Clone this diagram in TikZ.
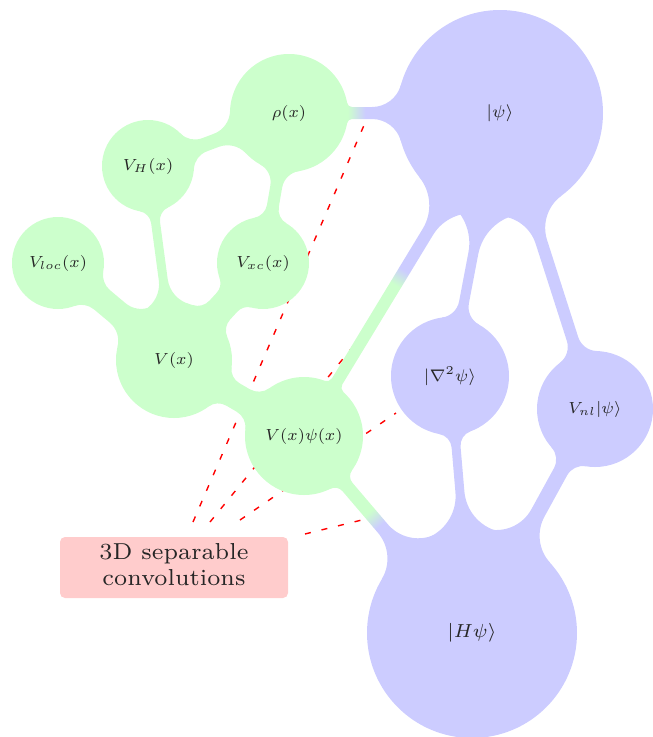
\documentclass[tikz,border=0pt]{standalone}
\usepackage{amsmath}
\usepackage{graphicx}
\pgfdeclarelayer{dashes}
\pgfdeclarelayer{necks}
\pgfsetlayers{dashes,necks,main}
\colorlet{blobgreen}{green!20}
\colorlet{blobblue}{blue!20}
\colorlet{boxred}{red!20}
\pgfdeclarehorizontalshading{greentoblue}{100bp}{color(0bp)=(blobgreen); color(49bp)=(blobgreen); color(51bp)=(blobblue); color(100bp)=(blobblue)}

% Geometry of a neck joining two round blobs: a straight band of width #5
% whose ends are blended into the circles by fillets of radius #6 and #7.
% #1 node A, #2 radius of A, #3 node B, #4 radius of B
\newcommand\necksetup[7]{%
  \pgfpointanchor{#1}{center}\pgfgetlastxy{\nkax}{\nkay}%
  \pgfpointanchor{#3}{center}\pgfgetlastxy{\nkbx}{\nkby}%
  \pgfmathsetmacro\nkax{\nkax}\pgfmathsetmacro\nkay{\nkay}%
  \pgfmathsetmacro\nkbx{\nkbx}\pgfmathsetmacro\nkby{\nkby}%
  \pgfmathsetmacro\nkdx{(\nkbx)-(\nkax)}%
  \pgfmathsetmacro\nkdy{(\nkby)-(\nkay)}%
  \pgfmathsetmacro\nkd{10*veclen((\nkdx)/10,(\nkdy)/10)}%
  \pgfmathsetmacro\nkux{(\nkdx)/(\nkd)}%
  \pgfmathsetmacro\nkuy{(\nkdy)/(\nkd)}%
  \pgfmathsetmacro\nkh{#5/2}%
  \pgfmathsetmacro\nkfa{#6}\pgfmathsetmacro\nkfb{#7}%
  \pgfmathsetmacro\nksa{10*sqrt(((#2+#6)/10)^2-((\nkh+#6)/10)^2)}%
  \pgfmathsetmacro\nksb{10*sqrt(((#4+#7)/10)^2-((\nkh+#7)/10)^2)}%
  % fillet centres
  \pgfmathsetmacro\nkfapx{(\nkax)+\nksa*(\nkux)-(\nkh+#6)*(\nkuy)}%
  \pgfmathsetmacro\nkfapy{(\nkay)+\nksa*(\nkuy)+(\nkh+#6)*(\nkux)}%
  \pgfmathsetmacro\nkfamx{(\nkax)+\nksa*(\nkux)+(\nkh+#6)*(\nkuy)}%
  \pgfmathsetmacro\nkfamy{(\nkay)+\nksa*(\nkuy)-(\nkh+#6)*(\nkux)}%
  \pgfmathsetmacro\nkfbpx{(\nkbx)-\nksb*(\nkux)-(\nkh+#7)*(\nkuy)}%
  \pgfmathsetmacro\nkfbpy{(\nkby)-\nksb*(\nkuy)+(\nkh+#7)*(\nkux)}%
  \pgfmathsetmacro\nkfbmx{(\nkbx)-\nksb*(\nkux)+(\nkh+#7)*(\nkuy)}%
  \pgfmathsetmacro\nkfbmy{(\nkby)-\nksb*(\nkuy)-(\nkh+#7)*(\nkux)}%
  % where the fillets touch the circles
  \pgfmathsetmacro\nkk{#2/(#2+#6)}%
  \pgfmathsetmacro\nktapx{(\nkax)+\nkk*((\nkfapx)-(\nkax))}%
  \pgfmathsetmacro\nktapy{(\nkay)+\nkk*((\nkfapy)-(\nkay))}%
  \pgfmathsetmacro\nkk{#4/(#4+#7)}%
  \pgfmathsetmacro\nktbmx{(\nkbx)+\nkk*((\nkfbmx)-(\nkbx))}%
  \pgfmathsetmacro\nktbmy{(\nkby)+\nkk*((\nkfbmy)-(\nkby))}%
  % where the fillets touch the straight sides
  \pgfmathsetmacro\nklbpx{(\nkbx)-\nksb*(\nkux)-\nkh*(\nkuy)}%
  \pgfmathsetmacro\nklbpy{(\nkby)-\nksb*(\nkuy)+\nkh*(\nkux)}%
  \pgfmathsetmacro\nklamx{(\nkax)+\nksa*(\nkux)+\nkh*(\nkuy)}%
  \pgfmathsetmacro\nklamy{(\nkay)+\nksa*(\nkuy)-\nkh*(\nkux)}%
  % arc angles
  \pgfmathsetmacro\nkin{atan2(-(\nkux),\nkuy)}%
  \pgfmathsetmacro\nkout{atan2(\nkux,-(\nkuy))}%
  \pgfmathsetmacro\nksap{atan2((\nkay)-(\nkfapy),(\nkax)-(\nkfapx))}%
  \pgfmathsetmacro\nkdap{mod((\nkin)-(\nksap)+540,360)-180}%
  \pgfmathsetmacro\nkebp{atan2((\nkby)-(\nkfbpy),(\nkbx)-(\nkfbpx))}%
  \pgfmathsetmacro\nkdbp{mod((\nkebp)-(\nkin)+540,360)-180}%
  \pgfmathsetmacro\nksbm{atan2((\nkby)-(\nkfbmy),(\nkbx)-(\nkfbmx))}%
  \pgfmathsetmacro\nkdbm{mod((\nkout)-(\nksbm)+540,360)-180}%
  \pgfmathsetmacro\nkeam{atan2((\nkay)-(\nkfamy),(\nkax)-(\nkfamx))}%
  \pgfmathsetmacro\nkdam{mod((\nkeam)-(\nkout)+540,360)-180}%
}

% a neck in one colour (#8)
\newcommand\neckfill[8]{%
  \necksetup{#1}{#2}{#3}{#4}{#5}{#6}{#7}%
  \begin{pgfonlayer}{necks}
    \fill[#8] (\nkax pt,\nkay pt) -- (\nktapx pt,\nktapy pt)
      arc[start angle=\nksap, delta angle=\nkdap, radius=\nkfa pt]
      -- (\nklbpx pt,\nklbpy pt)
      arc[start angle=\nkin, delta angle=\nkdbp, radius=\nkfb pt]
      -- (\nkbx pt,\nkby pt) -- (\nktbmx pt,\nktbmy pt)
      arc[start angle=\nksbm, delta angle=\nkdbm, radius=\nkfb pt]
      -- (\nklamx pt,\nklamy pt)
      arc[start angle=\nkout, delta angle=\nkdam, radius=\nkfa pt]
      -- cycle;
  \end{pgfonlayer}%
}

% a neck that turns from green to blue at fraction #8 of the way from A to B
\newcommand\neckshade[8]{%
  \necksetup{#1}{#2}{#3}{#4}{#5}{#6}{#7}%
  \pgfmathsetmacro\nktx{(\nkax)+#8*(\nkdx)}%
  \pgfmathsetmacro\nkty{(\nkay)+#8*(\nkdy)}%
  \pgfmathsetmacro\nkang{atan2(\nkdy,\nkdx)}%
  \pgfmathsetmacro\nkxa{(\nktx)-220}\pgfmathsetmacro\nkxb{(\nktx)+220}%
  \pgfmathsetmacro\nkya{(\nkty)-220}\pgfmathsetmacro\nkyb{(\nkty)+220}%
  \begin{pgfonlayer}{necks}
    \begin{scope}
      \clip (\nkax pt,\nkay pt) -- (\nktapx pt,\nktapy pt)
        arc[start angle=\nksap, delta angle=\nkdap, radius=\nkfa pt]
        -- (\nklbpx pt,\nklbpy pt)
        arc[start angle=\nkin, delta angle=\nkdbp, radius=\nkfb pt]
        -- (\nkbx pt,\nkby pt) -- (\nktbmx pt,\nktbmy pt)
        arc[start angle=\nksbm, delta angle=\nkdbm, radius=\nkfb pt]
        -- (\nklamx pt,\nklamy pt)
        arc[start angle=\nkout, delta angle=\nkdam, radius=\nkfa pt]
        -- cycle;
      \shade[shading=greentoblue, shading angle=\nkang]
        (\nkxa pt,\nkya pt) rectangle (\nkxb pt,\nkyb pt);
    \end{scope}
  \end{pgfonlayer}%
}

% math label set small and enlarged
\newcommand\lbl[2][2.3]{\scalebox{#1}{\fontsize{7}{8}\selectfont$#2$}}

\begin{document}
\begin{tikzpicture}[x=1pt,y=1pt,
  gball/.style={circle, fill=blobgreen, inner sep=0pt, minimum size=#1, text=black!85},
  bball/.style={circle, fill=blobblue, inner sep=0pt, minimum size=#1, text=black!85},
  convbox/.style={fill=boxred, rounded corners=5pt, minimum width=228pt,
    minimum height=61pt, inner sep=0pt, text=black!85},
  convline/.style={red, line width=1.4pt, dash pattern=on 6pt off 11pt}]
\useasboundingbox (0,0) rectangle (653,-737);

% potential side (green)
\node[gball=118pt] (rho)  at (289,-113) {\lbl{\rho(x)}};
\node[gball=92pt]  (vh)   at (148,-166) {\lbl{V_H(x)}};
\node[gball=92pt]  (vloc) at (58,-263)  {\lbl{V_{loc}(x)}};
\node[gball=92pt]  (vxc)  at (263,-263) {\lbl{V_{xc}(x)}};
\node[gball=116pt] (v)    at (174,-360) {\lbl{V(x)}};
\node[gball=118pt] (vpsi) at (304,-436) {\lbl{V(x)\psi(x)}};

% wave-function side (blue)
\node[bball=206pt] (psi)  at (500,-113) {\lbl[2.45]{|\psi\rangle}};
\node[bball=118pt] (lap)  at (450,-376) {\lbl[2.4]{|\nabla^2\psi\rangle}};
\node[bball=116pt] (vnl)  at (595,-409) {\lbl{V_{nl}|\psi\rangle}};
\node[bball=210pt] (hpsi) at (472,-633) {\lbl[2.7]{|H\psi\rangle}};

% green necks
\neckfill{vh}{46}{rho}{59}{14}{20}{25}{blobgreen}
\neckfill{vh}{46}{v}{58}{9}{14}{30}{blobgreen}
\neckfill{vloc}{46}{v}{58}{25}{20}{24}{blobgreen}
\neckfill{vxc}{46}{rho}{59}{12}{16}{20}{blobgreen}
\neckfill{vxc}{46}{v}{58}{28}{14}{16}{blobgreen}
\neckfill{v}{58}{vpsi}{59}{26}{16}{18}{blobgreen}

% necks crossing from green to blue
\neckshade{rho}{59}{psi}{103}{12}{5}{30}{0.32}
\neckshade{vpsi}{59}{psi}{103}{12}{6}{45}{0.49}
\neckshade{vpsi}{59}{hpsi}{105}{13}{10}{40}{0.42}

% blue necks
\neckfill{psi}{103}{lap}{59}{10}{50}{20}{blobblue}
\neckfill{psi}{103}{vnl}{58}{12}{40}{20}{blobblue}
\neckfill{lap}{59}{hpsi}{105}{9}{15}{45}{blobblue}
\neckfill{vnl}{58}{hpsi}{105}{15}{18}{40}{blobblue}

% convolution box and its dashed pointers
\node[convbox] (conv) at (174,-567.5)
  {\scalebox{3.3}{\fontsize{7}{7.6}\selectfont
   \begin{tabular}{@{}c@{}}3D separable\\convolutions\end{tabular}}};

\coordinate (s1) at (193,-522);
\coordinate (s2) at (210,-522);
\coordinate (s3) at (240,-520);
\coordinate (s4) at (305,-534);
\coordinate (t1) at (368,-116);
\coordinate (t2) at (373,-322);
\coordinate (t3) at (396,-413);
\coordinate (t4) at (374,-517);
\begin{pgfonlayer}{dashes}
  \draw[convline] (s1) -- (t1);
  \draw[convline] (s2) -- (t2);
  \draw[convline] (s3) -- (t3);
  \draw[convline] (s4) -- (t4);
\end{pgfonlayer}
\end{tikzpicture}
\end{document}
